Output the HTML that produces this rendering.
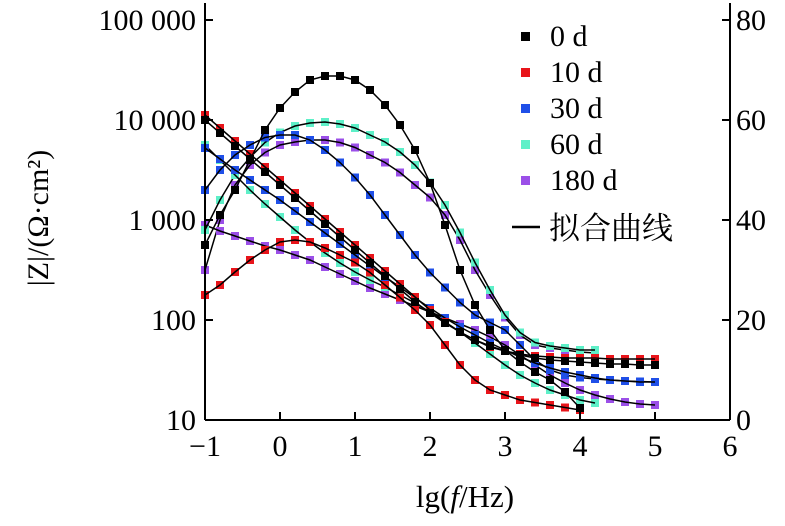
<!DOCTYPE html>
<html><head><meta charset="utf-8"><style>
html,body{margin:0;padding:0;background:#fff;}
svg{display:block;font-family:"Liberation Serif","Noto Serif CJK SC",serif;}
</style></head><body>
<svg id="chart" width="785" height="526" viewBox="0 0 785 526" xmlns="http://www.w3.org/2000/svg">
<g id="plot"></g>
<g id="axes"></g>
<g id="legend"></g>
</svg>
<script>
const xStart = -1, xStep = 0.2;
const seriesNames = ["0 d","10 d","30 d","60 d","180 d"];
const seriesColors = ["#000000","#e8141a","#1f4fe8","#5ef0c8","#9b4fe8"];
// log10 |Z| values, x = -1..5 step 0.2
const z0d   = [4.0,3.87,3.74,3.61,3.48,3.35,3.22,3.09,2.96,2.83,2.70,2.57,2.44,2.31,2.18,2.07,1.97,1.88,1.80,1.74,1.69,1.65,1.62,1.60,1.59,1.58,1.57,1.56,1.56,1.55,1.55];
const z10d  = [4.05,3.92,3.79,3.66,3.53,3.40,3.27,3.14,3.01,2.88,2.75,2.62,2.49,2.36,2.23,2.10,1.98,1.88,1.80,1.73,1.69,1.66,1.64,1.63,1.62,1.62,1.62,1.61,1.61,1.61,1.61];
const z30d  = [3.72,3.61,3.50,3.40,3.30,3.20,3.09,2.98,2.87,2.76,2.65,2.54,2.43,2.33,2.22,2.12,2.02,1.93,1.85,1.77,1.70,1.63,1.57,1.52,1.48,1.45,1.42,1.40,1.39,1.38,1.38];
const z60d  = [3.75,3.60,3.45,3.30,3.16,3.03,2.90,2.78,2.67,2.57,2.48,2.40,2.33,2.25,2.17,2.08,1.98,1.88,1.77,1.66,1.55,1.45,1.37,1.30,1.25,1.20,1.17];
const z180d = [2.95,2.89,2.84,2.79,2.74,2.70,2.65,2.60,2.53,2.46,2.39,2.32,2.26,2.20,2.14,2.08,2.02,1.96,1.90,1.83,1.75,1.65,1.55,1.45,1.37,1.30,1.25,1.21,1.18,1.16,1.15];
// phase angle values (deg)
const p0d   = [35,41,46,52,58,62.4,65.6,68,68.8,68.8,68,66,63,59,54,47.4,39,30,23,18,14,11.6,9.6,8,5.6,2.4];
const p10d  = [25,27,29.6,32,34,35.6,36,35.6,34.4,33,31.5,29.5,27,24.5,22,19,15,11,8,6,5,4,3.5,3,2.5,2];
const p30d  = [46,50,53,55,56.5,57,57,56,54,51.5,48.5,45,41,37,33,29.5,26.5,23.5,21,19.5,18,15,12,10,9,8.5,8.2,8,7.8,7.7,7.6];
const p60d  = [38,44,49,52.5,55.5,57.5,58.8,59.4,59.6,59.2,58.4,57,55.6,53.6,51,47.5,43,37.5,31.5,26,21,17.5,15.5,14.8,14.4,14,14];
const p180d = [30,40,47,51,53.5,55,55.6,56,56,55.5,54.5,53,51.5,49.5,47,44.5,41,36,30,25,20.5,17,15,14.4,14,13.6,13.4];
const zSeries = [z0d,z10d,z30d,z60d,z180d];
const pSeries = [p0d,p10d,p30d,p60d,p180d];
const xTicks = [-1,0,1,2,3,4,5,6];
const yLeftTicks = [1,2,3,4,5];
const yLeftLabels = ["10","100","1 000","10 000","100 000"];
const yRightTicks = [0,20,40,60,80];

const X0=205, X1=730, Y0=420, Y1=20;
const sx = v => X0 + (v+1)/7*(X1-X0);
const syL = v => Y0 - (v-1)/4*(Y0-Y1);
const syR = v => Y0 - v/80*(Y0-Y1);
const NS="http://www.w3.org/2000/svg";
function mk(tag, attrs, parent){const e=document.createElementNS(NS,tag);for(const k in attrs)e.setAttribute(k,attrs[k]);parent.appendChild(e);return e;}
const plot=document.getElementById('plot'), axes=document.getElementById('axes'), legend=document.getElementById('legend');

function drawSeries(arr, sy, color, idx, kind){
  const pts=arr.map((v,i)=>[sx(xStart+i*xStep), sy(v)]);
  pts.forEach((p,i)=>{
    const r=mk('rect',{x:p[0]-4,y:p[1]-4,width:8,height:8,fill:color},plot);
    
    
  });
  const l=mk('polyline',{points:pts.map(p=>p.join(',')).join(' '),fill:'none',stroke:'#000','stroke-width':1.5},plot);
  
  
}
[4,3,2,1,0].forEach(i=>{drawSeries(pSeries[i],syR,seriesColors[i],i,'phase');drawSeries(zSeries[i],syL,seriesColors[i],i,'modulus');});

let a=mk('line',{x1:X0,y1:3,x2:X0,y2:Y0,stroke:'#000','stroke-width':2},axes);

a=mk('line',{x1:X1,y1:3,x2:X1,y2:Y0,stroke:'#000','stroke-width':2},axes);

a=mk('line',{x1:X0,y1:Y0,x2:X1,y2:Y0,stroke:'#000','stroke-width':2},axes);

xTicks.forEach(t=>{
  mk('line',{x1:sx(t),y1:Y0,x2:sx(t),y2:Y0-8,stroke:'#000','stroke-width':2},axes);
  const tx=mk('text',{x:sx(t),y:Y0+36,'text-anchor':'middle','font-size':30},axes);
  tx.textContent = t<0 ? '\u2212'+Math.abs(t) : String(t);
  
});
yLeftTicks.forEach((t,i)=>{
  mk('line',{x1:X0,y1:syL(t),x2:X0+8,y2:syL(t),stroke:'#000','stroke-width':2},axes);
  const tx=mk('text',{x:X0-9,y:syL(t)+10,'text-anchor':'end','font-size':30},axes);
  tx.textContent=yLeftLabels[i];
  
});
yRightTicks.forEach(t=>{
  mk('line',{x1:X1,y1:syR(t),x2:X1-8,y2:syR(t),stroke:'#000','stroke-width':2},axes);
  const tx=mk('text',{x:X1+6,y:syR(t)+10,'text-anchor':'start','font-size':30},axes);
  tx.textContent=String(t);
  
});
const legY=[46,82,118,154,190];
seriesNames.forEach((n,i)=>{
  const r=mk('rect',{x:521,y:legY[i]-14,width:9,height:9,fill:seriesColors[i]},legend);
  
  const t=mk('text',{x:550,y:legY[i],'font-size':30},legend);
  t.textContent=n;
  
});
</script>
<svg style="position:absolute;left:0;top:0" width="785" height="526">
<line x1="512" y1="227" x2="540" y2="227" stroke="#000" stroke-width="2.5"/>
<text x="549" y="239" font-size="31" font-family="'Liberation Serif','Noto Serif CJK SC',serif">拟合曲线</text>
<text x="465" y="507" text-anchor="middle" font-size="31" font-family="'Liberation Serif',serif">lg(<tspan font-style="italic">f</tspan>/Hz)</text>
<text transform="translate(48,218) rotate(-90)" text-anchor="middle" font-size="30" font-family="'Liberation Serif',serif">|Z|/(Ω·cm²)</text>
</svg>
</body></html>
